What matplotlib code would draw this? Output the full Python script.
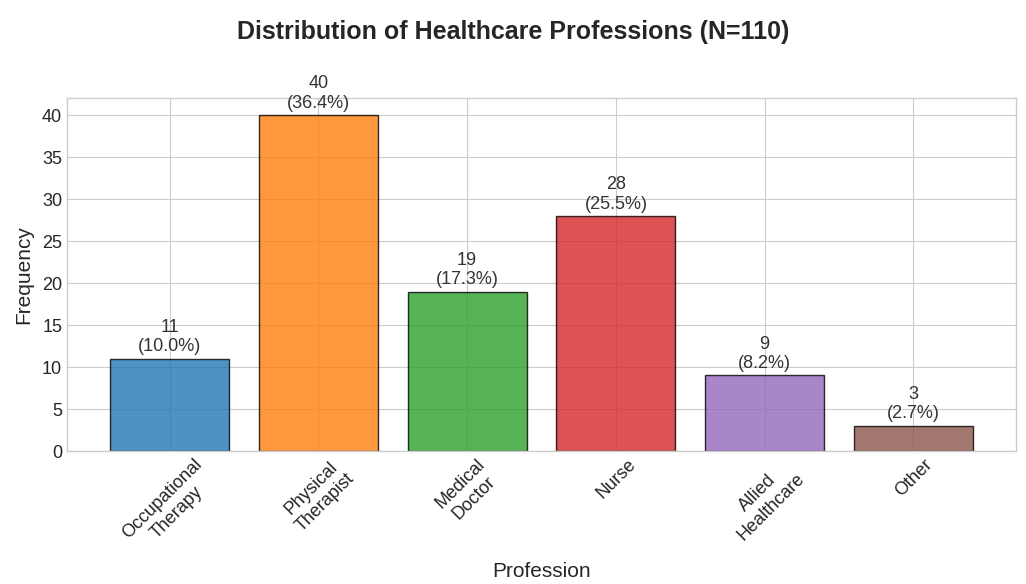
import numpy as np
import matplotlib
matplotlib.use("Agg")
import matplotlib.pyplot as plt

professions = ["Occupational\nTherapy", "Physical\nTherapist", "Medical\nDoctor",
               "Nurse", "Allied\nHealthcare", "Other"]
counts = [11, 40, 19, 28, 9, 3]
total = 110
colors = ["#1f77b4", "#ff7f0e", "#2ca02c", "#d62728", "#9467bd", "#8c564b"]

plt.style.use("seaborn-v0_8-whitegrid")
plt.rcParams["font.family"] = ["Liberation Sans", "DejaVu Sans"]

fig = plt.figure(figsize=(10.26, 5.84), dpi=100)
ax = fig.add_axes([0.0653, 0.2277, 0.925, 0.605])

x = np.arange(len(professions))
bars = ax.bar(x, counts, color=colors, alpha=0.8, edgecolor="black", linewidth=1)

for b, c in zip(bars, counts):
    ax.text(b.get_x() + b.get_width() / 2, c + 0.4,
            f"{c}\n({c / total * 100:.1f}%)",
            ha="center", va="bottom", fontsize=13, color="#333333")

ax.set_xticks(x)
ax.set_xticklabels(professions, rotation=45, ha="center", fontsize=13)
ax.tick_params(axis="y", labelsize=13)
ax.set_ylim(0, 42.1)
ax.set_ylabel("Frequency", fontsize=15, labelpad=6)
ax.set_xlabel("Profession", fontsize=15, labelpad=4)
fig.suptitle("Distribution of Healthcare Professions (N=110)",
             fontsize=18, fontweight="bold", y=0.965, color="#262626")
for s in ax.spines.values():
    s.set_visible(True)
    s.set_color("#cccccc")

fig.savefig("out.png", dpi=100)
